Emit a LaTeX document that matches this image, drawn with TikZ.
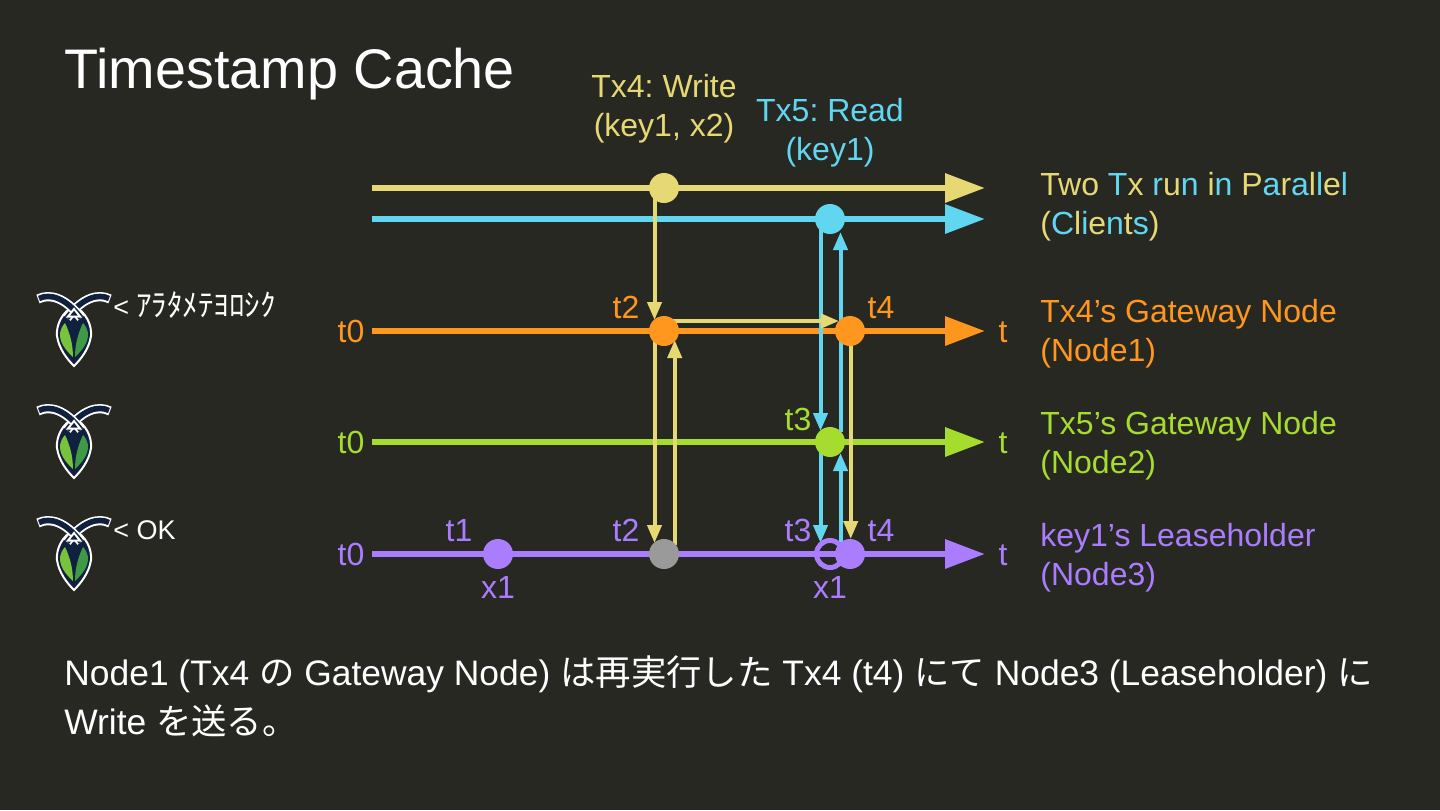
\documentclass[tikz,border=0pt]{standalone}
\usepackage{fontspec}
\setmainfont{Liberation Sans}
\newfontfamily\cjk{Noto Sans CJK JP}
\usetikzlibrary{arrows.meta}
\definecolor{bgc}{HTML}{282823}
\definecolor{yel}{HTML}{E6D873}
\definecolor{cya}{HTML}{61D6F0}
\definecolor{ora}{HTML}{FF961E}
\definecolor{gre}{HTML}{A5DC2D}
\definecolor{pur}{HTML}{AA7DFF}
\definecolor{gry}{HTML}{9A9A9A}
\definecolor{navy}{HTML}{12203F}
\definecolor{lgr}{HTML}{78C23C}
\definecolor{dgr}{HTML}{3E9B44}
\newcommand{\yy}[1]{\textcolor{yel}{#1}}
\newcommand{\cc}[1]{\textcolor{cya}{#1}}
\tikzset{
 x=0.5pt,y=-0.5pt,
 lbl/.style={font=\fontsize{16}{20}\selectfont\frenchspacing,inner sep=0pt,anchor=base west},
 tm/.style={font=\fontsize{16}{20}\selectfont,inner sep=0pt,anchor=base},
 ctr/.style={font=\fontsize{16}{20}\selectfont\frenchspacing,inner sep=0pt,anchor=base},
 body/.style={font=\fontsize{17.7}{22}\selectfont\frenchspacing,inner sep=0pt,anchor=base west,text=white},
 say/.style={inner sep=0pt,anchor=base west,text=white,font=\fontsize{13.5}{16}\selectfont},
 axis/.style={line width=3.2pt,-{Triangle[length=20pt,width=14pt]}},
 dot/.style={circle,minimum size=15pt,inner sep=0pt,fill=#1},
 msg/.style={line width=2pt,#1,-{Triangle[length=9pt,width=7pt]}},
}
\newcommand{\logo}[2]{%
 \begin{scope}[shift={(#1,#2)}]
  \fill[navy,draw=white,line width=1pt] (0,-27) .. controls (12,-21) and (18,-8) .. (17,3) .. controls (15,16) and (7,26) .. (0,33) .. controls (-7,26) and (-15,16) .. (-17,3) .. controls (-18,-8) and (-12,-21) .. (0,-27) -- cycle;
  \draw[white,line width=4.6pt] (36,-34) .. controls (24,-40) and (8,-35) .. (-7,-15);
  \draw[navy,line width=2.8pt] (35,-34.5) .. controls (24,-40) and (8,-35) .. (-7,-15);
  \draw[white,line width=4.6pt] (-36,-34) .. controls (-24,-40) and (-8,-35) .. (7,-15);
  \draw[navy,line width=2.8pt] (-35,-34.5) .. controls (-24,-40) and (-8,-35) .. (7,-15);
  \fill[navy,draw=white,line width=1pt] (-6,-16.5) -- (0,-24) -- (6,-16.5) -- cycle;
  \fill[lgr] (-9,-10) .. controls (-4,0) and (-1,12) .. (-1,24) .. controls (-11,15) and (-20,2) .. (-9,-10) -- cycle;
  \fill[dgr] (9,-10) .. controls (4,0) and (1,12) .. (1,24) .. controls (11,15) and (20,2) .. (9,-10) -- cycle;
 \end{scope}}
\begin{document}
\begin{tikzpicture}
\useasboundingbox (0,0) rectangle (1440,810);
\fill[bgc] (0,0) rectangle (1440,810);
\node[inner sep=0pt,anchor=base west,font=\fontsize{27.9}{32}\selectfont,text=white] (title) at (64,88) {Timestamp Cache};

\foreach \n/\y in {a/188,b/219,c/331,d/442,e/554}{
  \coordinate (\n0) at (372,\y);
  \coordinate (\n1) at (985,\y);
}
\draw[axis,yel] (a0) -- (a1);
\draw[axis,cya] (b0) -- (b1);
\draw[axis,ora] (c0) -- (c1);
\draw[axis,gre] (d0) -- (d1);
\draw[axis,pur] (e0) -- (e1);

\coordinate (v1a) at (654.5,195);
\coordinate (v1b) at (654.5,320);
\coordinate (v2a) at (654.5,340);
\coordinate (v2b) at (654.5,543);
\coordinate (v3a) at (674.7,545);
\coordinate (v3b) at (674.7,340);
\coordinate (h1a) at (672,321);
\coordinate (h1b) at (839,321);
\coordinate (v4a) at (820.5,228);
\coordinate (v4b) at (820.5,431);
\coordinate (v5a) at (820.5,452);
\coordinate (v5b) at (820.5,543);
\coordinate (v6a) at (840.5,545);
\coordinate (v6b) at (840.5,453);
\coordinate (v7a) at (840.5,432);
\coordinate (v7b) at (840.5,232);
\coordinate (v8a) at (850.7,345);
\coordinate (v8b) at (850.7,539);
\draw[msg=cya] (v4a) -- (v4b);
\draw[msg=cya] (v5a) -- (v5b);
\draw[msg=cya] (v6a) -- (v6b);
\draw[msg=cya] (v7a) -- (v7b);
\draw[msg=yel] (v1a) -- (v1b);
\draw[msg=yel] (v2a) -- (v2b);
\draw[msg=yel] (v3a) -- (v3b);
\draw[msg=yel] (v8a) -- (v8b);
\draw[msg=yel] (h1a) -- (h1b);

\node[dot=yel] (A) at (664,188) {};
\node[dot=cya] (B) at (830,219) {};
\node[dot=ora] (C) at (664,331) {};
\node[dot=ora] (D) at (850,331) {};
\node[dot=gre] (E) at (830,442) {};
\node[dot=gry] (F) at (664,554) {};
\node[dot=pur] (G) at (498,554) {};
\node[circle,minimum size=13.5pt,inner sep=0pt,draw=pur,line width=2.5pt] (H) at (830,554) {};
\node[dot=pur] (I) at (850,554) {};

\node[ctr,text=yel] (tx4) at (664,97) {Tx4: Write};
\node[ctr,text=yel] (tx4b) at (664,136) {(key1, x2)};
\node[ctr,text=cya] (tx5) at (830,121) {Tx5: Read};
\node[ctr,text=cya] (tx5b) at (830,160) {(key1)};

\node[tm,text=ora] (t0a) at (351,342) {t0};
\node[tm,text=gre] (t0b) at (351,453) {t0};
\node[tm,text=pur] (t0c) at (351,565) {t0};
\node[tm,text=ora] (ta) at (1003,342) {t};
\node[tm,text=gre] (tb) at (1003,453) {t};
\node[tm,text=pur] (tc) at (1003,565) {t};
\node[tm,text=ora] (t2a) at (626,318) {t2};
\node[tm,text=ora] (t4a) at (881,318) {t4};
\node[tm,text=gre] (t3a) at (798,430) {t3};
\node[tm,text=pur] (t1b) at (459,541) {t1};
\node[tm,text=pur] (t2b) at (626,541) {t2};
\node[tm,text=pur] (t3b) at (798,541) {t3};
\node[tm,text=pur] (t4b) at (881,541) {t4};
\node[tm,text=pur] (x1a) at (498,598) {x1};
\node[tm,text=pur] (x1b) at (830,598) {x1};

\node[lbl] (r1) at (1040,195) {\yy{Two} \cc{T}\yy{x} \cc{r}\yy{u}\cc{n} \yy{i}\cc{n} \yy{P}\cc{a}\yy{r}\cc{a}\yy{l}\cc{l}\yy{e}\cc{l}};
\node[lbl] (r1b) at (1040,234) {\yy{(}\cc{C}\yy{l}\cc{i}\yy{e}\cc{n}\yy{t}\cc{s}\yy{)}};
\node[lbl,text=ora] (r2) at (1040,322) {Tx4’s Gateway Node};
\node[lbl,text=ora] (r2b) at (1040,361) {(Node1)};
\node[lbl,text=gre] (r3) at (1040,434) {Tx5’s Gateway Node};
\node[lbl,text=gre] (r3b) at (1040,473) {(Node2)};
\node[lbl,text=pur] (r4) at (1040,546) {key1’s Leaseholder};
\node[lbl,text=pur] (r4b) at (1040,585) {(Node3)};

\logo{74}{333}
\logo{74}{445}
\logo{74}{557}
\node[say] (say1) at (113,316) {<\hspace{3.5pt}{\cjk\fontsize{15.5}{16}\selectfont ｱﾗﾀﾒﾃﾖﾛｼｸ}};
\node[say] (say2) at (113,539) {< OK};

\node[body] (b1) at (64,685) {Node1 (Tx4 {\cjk の} Gateway Node) {\cjk は再実行した} Tx4 (t4) {\cjk にて} Node3 (Leaseholder) {\cjk に}};
\node[body] (b2) at (64,734) {Write {\cjk を送る。}};
\end{tikzpicture}
\end{document}
